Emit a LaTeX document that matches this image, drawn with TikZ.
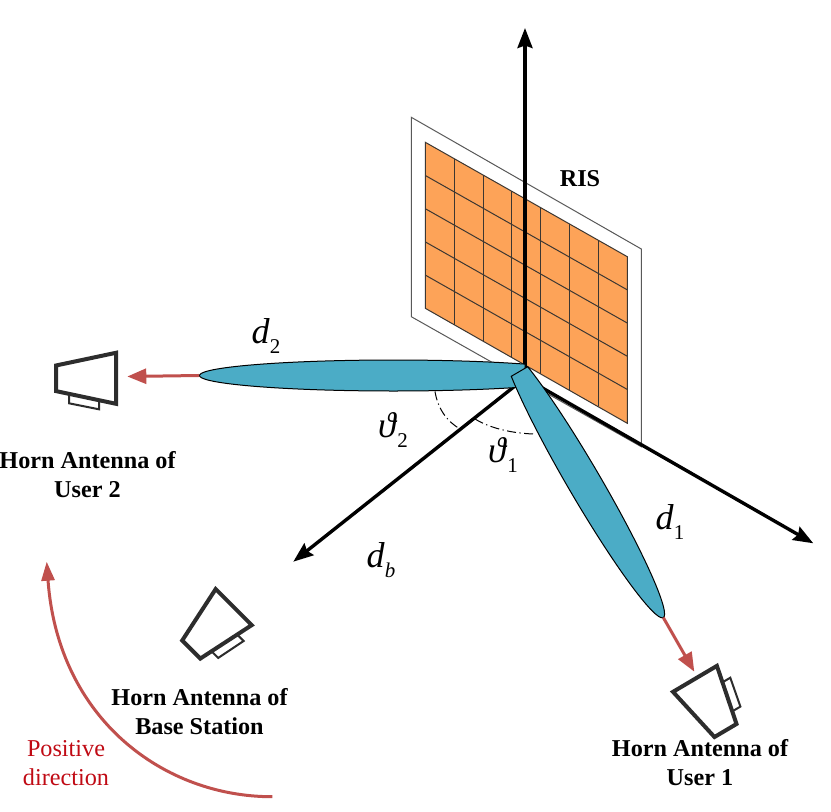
\documentclass[tikz,border=0pt]{standalone}
\usepackage{fontspec}
\setmainfont{Liberation Serif}
\usetikzlibrary{arrows.meta}
\newcommand{\cw}{28.86}
\newcommand{\cs}{16.34}
\newcommand{\rh}{33.2}
\newcommand{\indice}[2]{#1\raisebox{-.28em}{\fontsize{21}{21}\selectfont #2}}
\definecolor{orangeris}{RGB}{253,163,88}
\definecolor{bleulobe}{RGB}{75,172,198}
\definecolor{rougeray}{RGB}{192,80,77}
\definecolor{rougetexte}{RGB}{192,10,20}
\definecolor{traitris}{RGB}{60,55,50}
\definecolor{colcornet}{RGB}{45,45,45}
\tikzstyle{bord}=[line width=1pt,black!65]
\tikzstyle{cellule}=[line width=1pt,traitris]
\tikzstyle{axe}=[line width=3.4pt,-{Stealth[length=20pt,width=15pt,inset=2.5pt]}]
\tikzstyle{lobe}=[line width=1pt,draw=black,fill=bleulobe]
\tikzstyle{rayon}=[line width=3pt,rougeray,-{Triangle[length=19pt,width=15pt]}]
\tikzstyle{cornet}=[line width=4pt,colcornet,line join=miter]
\tikzstyle{ouverture}=[line width=1pt,dash pattern=on 9pt off 3.5pt on 1.2pt off 3.5pt]
\tikzstyle{titre}=[font=\fontsize{24.2}{29}\selectfont\bfseries,align=center,inner sep=0pt]
\tikzstyle{grandeur}=[font=\fontsize{36}{38}\selectfont,inner sep=0pt]

\begin{document}
\begin{tikzpicture}[x=1pt,y=1pt]
\useasboundingbox (0,0) rectangle (831,812);

% panneau
\draw[bord,fill=white] (411.3,694.7) -- (641.3,563) -- (641.3,365.3) -- (411.3,495.3) -- cycle;
\draw[cellule,fill=orangeris] (425.3,669.7) -- (627.3,555.3) -- (627.3,388.7) -- (425.3,503.7) -- cycle;

\foreach \i in {1,...,6}
\draw[cellule] (425.3+\i*\cw,669.7-\i*\cs) -- +(0,-5*\rh);

\foreach \j in {1,...,4}
\draw[cellule] (425.3,669.7-\j*\rh) -- +(7*\cw,-7*\cs);

% axes
\coordinate (centre) at (525,434);
\coordinate (axehaut) at (525,784);
\coordinate (axedroit) at (813.3,268.7);
\coordinate (axegauche) at (293.3,250.3);
\draw[axe] (centre) -- (axehaut);
\draw[axe] (centre) -- (axedroit);
\draw[axe] (centre) -- (axegauche);

% lobes
\begin{scope}[shift={(525,436.5)},rotate=180]
\draw[lobe] (0,11.4) arc[start angle=132.7,end angle=-132.7,x radius=194,y radius=15.5] -- cycle;
\coordinate (pointedeux) at (326,0);
\end{scope}

\begin{scope}[shift={(519.5,440.5)},rotate=-59.7]
\draw[lobe] (0,9.5) arc[start angle=144.8,end angle=-144.8,x radius=156.9,y radius=16.5] -- cycle;
\coordinate (pointeun) at (285,0);
\end{scope}

\coordinate (versdeux) at (127.3,435.5);
\coordinate (versun) at (694.3,140.3);
\draw[rayon] (pointedeux) -- (versdeux);
\draw[rayon] (pointeun) -- (versun);

% angles
\coordinate (debutdeux) at (435,420.5);
\coordinate (findeux) at (460,383);
\coordinate (debutun) at (475,393);
\coordinate (finun) at (533,378);
\draw[ouverture] (debutdeux) .. controls (438,402) and (448,390) .. (findeux);
\draw[ouverture] (debutun) .. controls (490,384) and (510,379) .. (finun);

% cornets
\foreach \x/\y/\a in {56/433.7/0,191.3/162.5/45,725.5/81.5/120.6}
{
\begin{scope}[shift={(\x,\y)},rotate=\a]
\draw[cornet] (0,12.8) -- (60,25.5) -- (60,-25.5) -- (0,-12.8) -- cycle;
\draw[cornet,line width=2pt] (13,-16) -- (13,-25) -- (43,-31) -- (43,-22);
\end{scope}
}

% sens positif
\coordinate (departsens) at (272.3,15.3);
\coordinate (arriveesens) at (46.7,250.3);
\draw[rayon,-{Triangle[length=19pt,width=13pt]}] (departsens) .. controls (165,15) and (58,92) .. (arriveesens);

% textes
\node[titre] (ris) at (580,633) {RIS};
\node[titre] (titredeux) at (87.5,337.5) {Horn Antenna of\\User 2};
\node[titre] (titrebase) at (199.5,100.3) {Horn Antenna of\\Base Station};
\node[titre] (titreun) at (700,49.7) {Horn Antenna of\\User 1};
\node[titre,font=\fontsize{24.2}{29}\selectfont,text=rougetexte] (sens) at (66,49) {Positive\\direction};

\node[grandeur] (ddeux) at (266,476) {\indice{\textit{d}}{2}};
\node[grandeur] (dun) at (670,290) {\indice{\textit{d}}{1}};
\node[grandeur] (dbase) at (381,252) {\indice{\textit{d}}{\textit{b}}};
\node[grandeur] (thetadeux) at (393,382) {\indice{\textit{ϑ}}{2}};
\node[grandeur] (thetaun) at (503,357) {\indice{\textit{ϑ}}{1}};

\end{tikzpicture}
\end{document}
